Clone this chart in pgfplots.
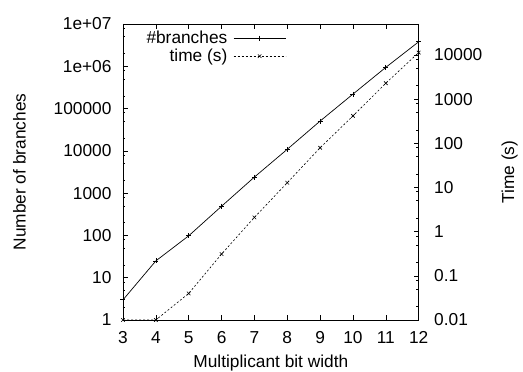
\documentclass[border=0pt]{standalone}
\usepackage{fontspec}
\setmainfont{Liberation Sans}
\usepackage{pgfplots}
\pgfplotsset{compat=1.18}
\newcommand{\fs}{\fontsize{17.3bp}{20bp}\selectfont}
\begin{document}
\begin{tikzpicture}
\useasboundingbox (-123bp,-52bp) rectangle (400bp,320bp);
\pgfplotsset{
  base/.style={
    scale only axis, width=295.7bp, height=296bp, at={(0,0)}, anchor=south west,
    xmin=3, xmax=12, tick align=inside,
    major tick length=5bp, minor tick length=2.5bp,
    every tick/.style={black, line width=0.6bp},
    axis line style={line width=0.9bp},
    tick label style={font=\fs},
    label style={font=\fs},
    /pgf/number format/assume math mode=true,
  }
}
\begin{axis}[base,
  ymode=log, ymin=1, ymax=1e7,
  ytick={1,10,100,1000,10000,100000,1000000,10000000},
  yticklabels={1,10,100,1000,10000,100000,1e+06,1e+07},
  minor ytick={2,5,8,20,50,80,200,500,800,2000,5000,8000,20000,50000,80000,200000,500000,800000,2000000,5000000,8000000},
  ytick pos=left,
  xtick={3,4,5,6,7,8,9,10,11,12},
  xtick pos=both,
  yticklabel style={xshift=-8bp},
  xticklabel style={yshift=-8bp},
  xlabel={Multiplicant bit width},
  ylabel={Number of branches},
  xlabel style={at={(axis description cs:0.5,-0.146)}, anchor=center},
  ylabel style={at={(axis description cs:-0.350,0.5)}, anchor=center},
  legend style={draw=none, fill=none, at={(axis description cs:0.562,0.99)}, anchor=north east, font=\fs, row sep=0bp},
  legend cell align=right, legend plot pos=right,
  legend image code/.code={\path (0bp,0bp); \draw[mark repeat=2,mark phase=2,#1] plot coordinates {(4bp,0bp)(30bp,0bp)(56bp,0bp)};},
]
\addplot[black, line width=0.7bp, mark=+, mark size=2.5bp] coordinates {
  (3,3) (4,25) (5,98) (6,490) (7,2400) (8,10900) (9,50700) (10,220000) (11,945000) (12,3800000)
};
\addlegendentry{\#branches}
\addlegendimage{black, line width=0.6bp, dash pattern=on 2bp off 2bp, mark=x, mark size=2.5bp, mark options={solid}}
\addlegendentry{time (s)}
\end{axis}
\begin{axis}[base,
  ymode=log, ymin=0.01, ymax=50000,
  ytick={0.01,0.1,1,10,100,1000,10000},
  yticklabels={0.01,0.1,1,10,100,1000,10000},
  minor ytick={0.02,0.05,0.08,0.2,0.5,0.8,2,5,8,20,50,80,200,500,800,2000,5000,8000,20000},
  ytick pos=right,
  xtick=\empty,
  axis line style={draw=none},
  yticklabel style={xshift=12bp},
  ylabel={Time (s)},
  ylabel style={at={(axis description cs:1.308,0.5)}, anchor=center},
]
\addplot[black, line width=0.6bp, dash pattern=on 2bp off 2bp, mark=x, mark size=2.5bp, mark options={solid}] coordinates {
  (3,0.01) (4,0.01) (5,0.04) (6,0.31) (7,2.1) (8,12.8) (9,79) (10,416) (11,2290) (12,11300)
};
\end{axis}
\end{tikzpicture}
\end{document}
